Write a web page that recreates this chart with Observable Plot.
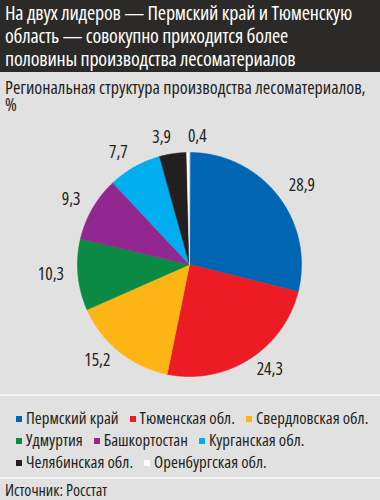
<!DOCTYPE html>
<html>
<head>
<meta charset="utf-8">
<script src="https://cdn.jsdelivr.net/npm/d3@7"></script>
<script src="https://cdn.jsdelivr.net/npm/@observablehq/plot@0.6"></script>
<style>
  html, body { margin: 0; padding: 0; background: #e1e1e1; }
  #card {
    width: 380px; height: 500px; background: #e1e1e1; position: relative; overflow: hidden;
    font-family: "Open Sans", sans-serif; font-stretch: condensed;
    color: #231f20;
  }
  #head {
    background: #2b2a29; color: #fff; font-size: 20px; line-height: 23px; letter-spacing: -0.2px;
    height: 72px; box-sizing: border-box; padding: 1px 4px 0 5px; white-space: nowrap;
  }
  #sub { font-size: 18px; line-height: 17px; height: 44px; box-sizing: border-box; padding: 7px 4px 0 5px; white-space: nowrap; }
  #chart svg { display: block; }
  .sep { height: 2px; background: #f5f5f5; }
  #legend {
    height: 81px; box-sizing: border-box; padding: 11px 0 0 16px; overflow: hidden;
    font-size: 16.8px; line-height: 22px;
  }
  .row { display: flex; flex-wrap: nowrap; height: 22px; }
  .item { display: flex; align-items: center; margin-right: 11px; white-space: nowrap; }
  .sw { width: 6px; height: 6px; margin-right: 4px; margin-top: 2px; flex: none; }
  #source { font-size: 16px; line-height: 20px; padding: 1px 5px; white-space: nowrap; }
</style>
</head>
<body>
<div id="card">
  <div id="head">На двух лидеров — Пермский край и Тюменскую<br>область — совокупно приходится более<br>половины производства лесоматериалов</div>
  <div id="sub">Региональная структура производства лесоматериалов,<br>%</div>
  <div id="chart"></div>
  <div class="sep"></div>
  <div id="legend"></div>
  <div class="sep"></div>
  <div id="source">Источник: Росстат</div>
</div>
<script>
// ---- data ----
const regions = ["Пермский край", "Тюменская обл.", "Свердловская обл.", "Удмуртия", "Башкортостан", "Курганская обл.", "Челябинская обл.", "Оренбургская обл."];
const shares = [28.9, 24.3, 15.2, 10.3, 9.3, 7.7, 3.9, 0.4];
const colors = ["#0066b3", "#ed1c24", "#fdb515", "#0b8a44", "#92278f", "#00aeef", "#231f20", "#ffffff"];

// ---- layout ----
const W = 380, H = 278;
const cx = 189, cy = 148; // pie centre inside the svg
const R = 112;

const rows = regions.map((name, i) => ({name, value: shares[i]}));
const arcs = d3.pie().sort(null).value(d => d.value).startAngle(0).endAngle(2 * Math.PI)(rows);

// slice outlines in pixel units relative to the centre (y up)
const pts = [];
for (const a of arcs) {
  const name = a.data.name;
  pts.push({name, x: 0, y: 0});
  const n = Math.max(2, Math.ceil((a.endAngle - a.startAngle) / (Math.PI / 360)));
  for (let k = 0; k <= n; k++) {
    const t = a.startAngle + (a.endAngle - a.startAngle) * k / n;
    pts.push({name, x: R * Math.sin(t), y: R * Math.cos(t)});
  }
}

const fmt = v => String(v).replace(".", ",");
const labels = arcs.map(a => {
  const m = (a.startAngle + a.endAngle) / 2;
  const rr = R + 14;
  return {text: fmt(a.data.value), x: rr * Math.sin(m), y: rr * Math.cos(m) + 2, right: Math.sin(m) > -0.05};
});

const plot = Plot.plot({
  width: W, height: H, margin: 0,
  x: {domain: [-cx, W - cx], axis: null},
  y: {domain: [-(H - cy), cy], axis: null},
  color: {domain: regions, range: colors},
  style: {background: "transparent", fontFamily: '"Open Sans", sans-serif', fontStretch: "condensed"},
  marks: [
    Plot.line(pts, {x: "x", y: "y", z: "name", fill: "name", stroke: "name", strokeWidth: 0.6, curve: "linear-closed"}),
    Plot.text(labels.filter(d => d.right), {x: "x", y: "y", text: "text", textAnchor: "start", fontSize: 17.5, fill: "#231f20"}),
    Plot.text(labels.filter(d => !d.right), {x: "x", y: "y", text: "text", textAnchor: "end", fontSize: 17.5, fill: "#231f20"})
  ]
});
document.getElementById("chart").appendChild(plot);

// legend: three rows, as in the reference (3 + 3 + 2 items)
const leg = document.getElementById("legend");
let row = null;
regions.forEach((name, i) => {
  if (i === 0 || i === 3 || i === 6) {
    row = document.createElement("div");
    row.className = "row";
    leg.appendChild(row);
  }
  const it = document.createElement("div");
  it.className = "item";
  const sw = document.createElement("span");
  sw.className = "sw";
  sw.style.background = colors[i];
  const tx = document.createElement("span");
  tx.textContent = name;
  it.appendChild(sw); it.appendChild(tx);
  row.appendChild(it);
});
</script>
</body>
</html>
